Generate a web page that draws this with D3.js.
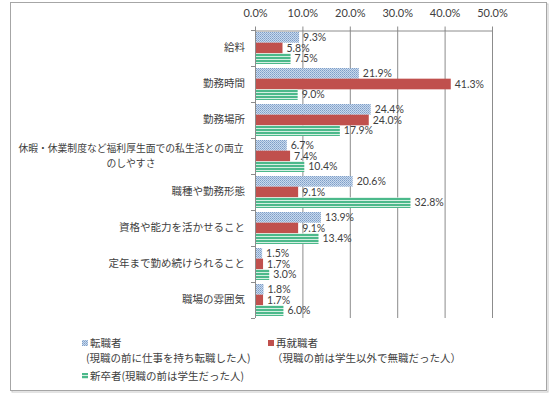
<!DOCTYPE html>
<html>
<head>
<meta charset="utf-8">
<script src="https://cdn.jsdelivr.net/npm/d3@7"></script>
<style>
  body { margin: 0; background: #fff; }
  text { font-family: "Noto Sans CJK JP", "Noto Sans", sans-serif; }
  .num { font-family: Lato, "Liberation Sans", sans-serif; }
</style>
</head>
<body>
<svg id="chart" width="554" height="399"></svg>
<script>
// categories (multi-line labels split into arrays)
var categories = [
  ["給料"],
  ["勤務時間"],
  ["勤務場所"],
  ["休暇・休業制度など福利厚生面での私生活との両立", "のしやすさ"],
  ["職種や勤務形態"],
  ["資格や能力を活かせること"],
  ["定年まで勤め続けられること"],
  ["職場の雰囲気"]
];
var seriesNames = ["転職者", "再就職者", "新卒者"];
var tenshoku = [9.3, 21.9, 24.4, 6.7, 20.6, 13.9, 1.5, 1.8];
var saishushoku = [5.8, 41.3, 24.0, 7.4, 9.1, 9.1, 1.7, 1.7];
var shinsotsu = [7.5, 9.0, 17.9, 10.4, 32.8, 13.4, 3.0, 6.0];
var xTicks = [0, 10, 20, 30, 40, 50];

var svg = d3.select("#chart");
var margin = { top: 30, left: 255, right: 62, bottom: 81 };
var width = 554, height = 399;

// frame with a little shadow
svg.append("rect").attr("x", 12).attr("y", 4).attr("width", 536).attr("height", 388)
  .attr("fill", "none").attr("stroke", "#c8c8c8");
svg.append("rect").attr("x", 10.5).attr("y", 2.5).attr("width", 536).attr("height", 388)
  .attr("fill", "#fff").attr("stroke", "#a6a6a6");

var defs = svg.append("defs");
var dots = defs.append("pattern").attr("id", "dots").attr("patternUnits", "userSpaceOnUse")
  .attr("width", 2).attr("height", 2);
dots.append("rect").attr("width", 2).attr("height", 2).attr("fill", "#cad9ec");
dots.append("rect").attr("width", 1).attr("height", 1).attr("fill", "#7d9ec8");
dots.append("rect").attr("x", 1).attr("y", 1).attr("width", 1).attr("height", 1).attr("fill", "#93b1d6");
var stripes = defs.append("pattern").attr("id", "stripes").attr("patternUnits", "userSpaceOnUse")
  .attr("width", 4).attr("height", 3);
stripes.append("rect").attr("width", 4).attr("height", 3).attr("fill", "#4cb98b");
stripes.append("rect").attr("y", 2).attr("width", 4).attr("height", 1).attr("fill", "#d5efe2");

var fills = ["url(#dots)", "#c0504d", "url(#stripes)"];

var x = d3.scaleLinear().domain([0, 50]).range([margin.left, width - margin.right]);
var y = d3.scaleBand().domain(d3.range(categories.length))
  .range([margin.top, height - margin.bottom]).padding(0);
var yi = d3.scaleBand().domain(d3.range(3)).range([2, y.bandwidth() - 2]).padding(0);

var plotBottom = height - margin.bottom;

// gridlines
svg.append("g").selectAll("line").data(xTicks.slice(1)).enter().append("line")
  .attr("x1", function(d) { return x(d) + 0.5; })
  .attr("x2", function(d) { return x(d) + 0.5; })
  .attr("y1", margin.top).attr("y2", plotBottom)
  .attr("stroke", "#8c8c8c").attr("stroke-width", 1);

// top axis
var xAxis = svg.append("g").attr("transform", "translate(0," + (margin.top + 0.5) + ")")
  .call(d3.axisTop(x).tickValues(xTicks).tickSize(4).tickSizeOuter(0)
    .tickFormat(function(d) { return d.toFixed(1) + "%"; }));
xAxis.select(".domain").attr("stroke", "#8c8c8c");
xAxis.selectAll(".tick line").attr("stroke", "#8c8c8c");
xAxis.selectAll("text").attr("class", "num").attr("font-size", 11).attr("fill", "#404040")
  .attr("dy", "-0.6em");

var series = [tenshoku, saishushoku, shinsotsu];

var groups = svg.append("g").selectAll("g").data(categories).enter().append("g")
  .attr("transform", function(d, i) { return "translate(0," + y(i) + ")"; });

groups.selectAll("rect").data(function(d, i) {
  return series.map(function(s, k) { return { k: k, v: s[i] }; });
}).enter().append("rect")
  .attr("x", x(0))
  .attr("y", function(d) { return yi(d.k); })
  .attr("width", function(d) { return x(d.v) - x(0); })
  .attr("height", yi.bandwidth())
  .attr("fill", function(d) { return fills[d.k]; });

groups.selectAll("text.val").data(function(d, i) {
  return series.map(function(s, k) { return { k: k, v: s[i] }; });
}).enter().append("text")
  .attr("class", "num val")
  .attr("x", function(d) { return x(d.v) + 4; })
  .attr("y", function(d) { return yi(d.k) + yi.bandwidth() / 2; })
  .attr("dy", "0.36em")
  .attr("font-size", 10.5).attr("fill", "#404040")
  .text(function(d) { return d.v.toFixed(1) + "%"; });

// left axis line and boundary ticks
svg.append("line").attr("x1", x(0) + 0.5).attr("x2", x(0) + 0.5)
  .attr("y1", margin.top).attr("y2", plotBottom).attr("stroke", "#8c8c8c");
svg.append("g").selectAll("line").data(d3.range(categories.length + 1)).enter().append("line")
  .attr("x1", x(0) - 4).attr("x2", x(0))
  .attr("y1", function(d) { return margin.top + d * y.bandwidth() + 0.5; })
  .attr("y2", function(d) { return margin.top + d * y.bandwidth() + 0.5; })
  .attr("stroke", "#8c8c8c");

// category labels
groups.each(function(lines) {
  var g = d3.select(this);
  var n = lines.length;
  if (n === 1) {
    g.append("text").attr("x", x(0) - 10).attr("y", y.bandwidth() / 2 - 1)
      .attr("dy", "0.36em").attr("text-anchor", "end")
      .attr("font-size", 10.5).attr("fill", "#404040").text(lines[0]);
  } else {
    var t = g.append("text").attr("text-anchor", "middle")
      .attr("font-size", 9.8).attr("fill", "#404040");
    lines.forEach(function(line, j) {
      t.append("tspan").attr("x", 131)
        .attr("y", y.bandwidth() / 2 + (j - (n - 1) / 2) * 15)
        .attr("dy", "0.36em").text(line);
    });
  }
});

// legend
var legendItems = [
  { k: 0, x: 82, y: 343, lines: ["転職者", "(現職の前に仕事を持ち転職した人)"] },
  { k: 1, x: 268, y: 343, lines: ["再就職者", "（現職の前は学生以外で無職だった人）"] },
  { k: 2, x: 82, y: 376, lines: ["新卒者(現職の前は学生だった人)"] }
];
var legend = svg.append("g").selectAll("g").data(legendItems).enter().append("g")
  .attr("transform", function(d) { return "translate(" + d.x + "," + d.y + ")"; });
legend.append("rect").attr("x", 0).attr("y", -3).attr("width", 6).attr("height", 6)
  .attr("fill", function(d) { return fills[d.k]; });
legend.each(function(d) {
  var g = d3.select(this);
  d.lines.forEach(function(line, j) {
    g.append("text").attr("x", j === 0 ? 8 : 4).attr("y", j * 15)
      .attr("dy", "0.36em").attr("font-size", 10.5).attr("fill", "#404040").text(line);
  });
});
</script>
</body>
</html>
